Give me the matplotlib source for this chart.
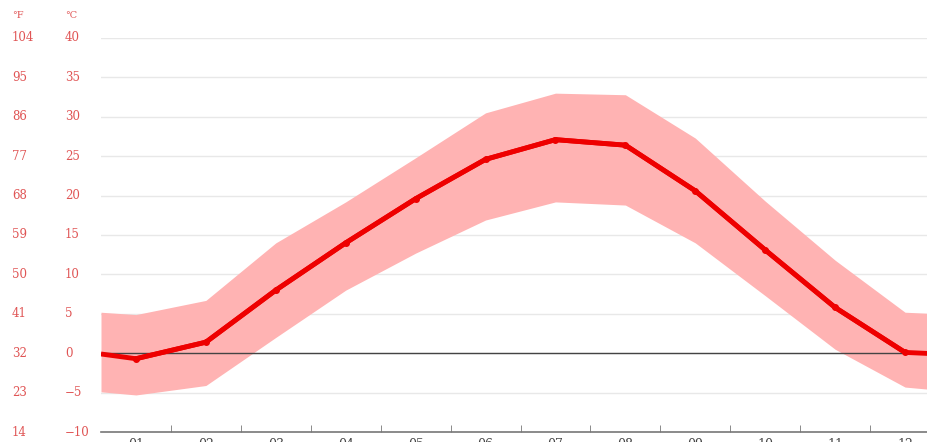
import matplotlib
matplotlib.use("Agg")
import matplotlib.pyplot as plt
import matplotlib.transforms as mtransforms

# month positions (edges at 0.5 / 12.5 carry the wrap-around values)
month_pos = [0.5, 1, 2, 3, 4, 5, 6, 7, 8, 9, 10, 11, 12, 12.5]
month_labels = ["01", "02", "03", "04", "05", "06", "07", "08", "09", "10", "11", "12"]

temp_mean = [-0.1, -0.7, 1.4, 8.0, 14.0, 19.6, 24.6, 27.1, 26.4, 20.6, 13.1, 5.8, 0.1, -0.1]
temp_max = [5.2, 4.9, 6.7, 14.0, 19.2, 24.8, 30.5, 33.0, 32.8, 27.3, 19.3, 11.8, 5.2, 5.0]
temp_min = [-4.9, -5.3, -4.1, 2.0, 8.0, 12.7, 16.9, 19.2, 18.8, 14.0, 7.3, 0.5, -4.3, -4.7]

celsius_ticks = [40, 35, 30, 25, 20, 15, 10, 5, 0, -5, -10]
fahrenheit_labels = ["104", "95", "86", "77", "68", "59", "50", "41", "32", "23", "14"]

W, H = 927, 442
fig = plt.figure(figsize=(W / 100, H / 100), dpi=100)
# axes runs a little past the right edge, the reference is cropped there
ax = fig.add_axes([101 / W, 10 / H, 839 / W, 394 / H])

ax.set_xlim(0.5, 12.5)
ax.set_ylim(-10, 40)

# grid
for c in celsius_ticks[:-1]:
    ax.axhline(c, color="#e8e8e8", lw=1, zorder=0)

ax.fill_between(month_pos, temp_min, temp_max, color="#ffb3b3", lw=0, zorder=1)
ax.axhline(0, color="#444444", lw=1, zorder=2)
ax.plot(month_pos[1:-1], temp_mean[1:-1], color="#ee0000", lw=3.5,
        marker="o", ms=4, zorder=3)
ax.plot(month_pos, temp_mean, color="#ee0000", lw=3.5, zorder=3,
        solid_capstyle="butt")

for s in ["top", "right", "left"]:
    ax.spines[s].set_visible(False)
ax.spines["bottom"].set_color("#777777")
ax.spines["bottom"].set_linewidth(1.2)

ax.set_yticks([])
ax.set_xticks(month_pos[1:-1])
ax.set_xticklabels(month_labels, family="DejaVu Serif", fontsize=9, color="#444444")
ax.tick_params(axis="x", which="major", length=0, pad=4)
ax.set_xticks([m + 0.5 for m in month_pos[:-1]], minor=True)
ax.tick_params(axis="x", which="minor", direction="in", length=5, color="#777777")

# temperature scales on the left
trans = mtransforms.blended_transform_factory(fig.transFigure, ax.transData)
for c, f in zip(celsius_ticks, fahrenheit_labels):
    ax.text(12 / W, c, f, transform=trans, ha="left", va="center",
            family="DejaVu Serif", fontsize=8.5, color="#e05555", clip_on=False)
    ax.text(65 / W, c, str(c).replace("-", "\u2212"), transform=trans, ha="left",
            va="center", family="DejaVu Serif", fontsize=8.5, color="#e05555",
            clip_on=False)

fig.text(12 / W, 1 - 16 / H, "°F", ha="left", va="center",
         family="DejaVu Serif", fontsize=7, color="#e05555")
fig.text(65 / W, 1 - 16 / H, "°C", ha="left", va="center",
         family="DejaVu Serif", fontsize=7, color="#e05555")

fig.savefig("out.png", dpi=100)
